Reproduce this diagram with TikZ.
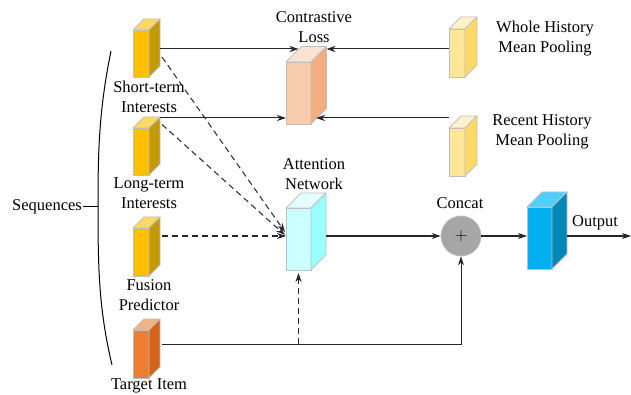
\documentclass[tikz,border=0pt]{standalone}
\usepackage{fontspec}
\setmainfont{Liberation Serif}
\usetikzlibrary{arrows.meta}

\definecolor{yelF}{HTML}{FFC000}\definecolor{yelS}{HTML}{C49A00}\definecolor{yelT}{HTML}{FFD966}
\definecolor{orgF}{HTML}{ED7D31}\definecolor{orgS}{HTML}{D5631A}\definecolor{orgT}{HTML}{F4B183}
\definecolor{pchF}{HTML}{F8CBAD}\definecolor{pchS}{HTML}{F2AE7E}\definecolor{pchT}{HTML}{FBE3D4}
\definecolor{palF}{HTML}{FFE699}\definecolor{palS}{HTML}{FFD966}\definecolor{palT}{HTML}{FFF2CC}
\definecolor{cyaF}{HTML}{CCFFFF}\definecolor{cyaS}{HTML}{99FFFF}\definecolor{cyaT}{HTML}{E3FFFF}
\definecolor{bluF}{HTML}{00B0F0}\definecolor{bluS}{HTML}{0086B8}\definecolor{bluT}{HTML}{50CFFF}

\tikzset{
  cubeface/.style={draw=black!25, line width=0.8pt, inner sep=0pt, outer sep=0pt},
  cubeedge/.style={draw=black!25, line width=0.8pt, line join=round},
  lbl/.style={align=center, inner sep=1pt},
  conn/.style={line width=1pt, draw=black!85},
  dashconn/.style={line width=1pt, draw=black!85, dash pattern=on 6pt off 4pt}
}

% name, centre, width, height, depth, colour prefix
\newcommand{\cuboid}[6]{%
  \node[cubeface, fill=#6F, minimum width=#3, minimum height=#4] (#1) at #2 {};
  \draw[cubeedge, fill=#6T] (#1.north west) -- ++(#5,-#5) -- ++(#3,0) -- (#1.north east) -- cycle;
  \draw[cubeedge, fill=#6S] (#1.north east) -- ++(#5,-#5) -- ++(0,#4) -- (#1.south east) -- cycle;
}

\begin{document}
\begin{tikzpicture}[x=1pt, y=-1pt, font=\fontsize{16.5}{20}\selectfont,
    >={Stealth[length=9pt,width=6pt]}]
  \useasboundingbox (0,0) rectangle (631,395);

  \cuboid{st}{(141,53.5)}{16}{47}{11}{yel}
  \cuboid{lt}{(141,151.5)}{16}{47}{11}{yel}
  \cuboid{fp}{(141,252)}{16}{48}{11}{yel}
  \cuboid{tg}{(141,354)}{16}{48}{11}{org}
  \cuboid{cl}{(298.5,93)}{25}{62}{15.5}{pch}
  \cuboid{wh}{(457,53)}{16}{48}{12}{pal}
  \cuboid{rh}{(457,152)}{16}{48}{12}{pal}
  \cuboid{at}{(298.5,239)}{25}{62}{15}{cya}
  \cuboid{out}{(539.5,238)}{25}{62}{15}{blu}
  \node[circle, draw=black!25, fill=black!35, line width=0.8pt, minimum size=40pt, inner sep=0pt] (cc) at (461,236) {$+$};

  \node[lbl] (stl) at (149,97) {Short-term\\Interests};
  \node[lbl] (ltl) at (149,193) {Long-term\\Interests};
  \node[lbl] (fpl) at (149,295) {Fusion\\Predictor};
  \node[lbl] (tgl) at (149,386) {Target Item};
  \node[lbl] (cll) at (314,27) {Contrastive\\Loss};
  \node[lbl] (whl) at (545,39) {Whole History\\Mean Pooling};
  \node[lbl] (rhl) at (542,132) {Recent History\\Mean Pooling};
  \node[lbl] (atl) at (314,174) {Attention\\Network};
  \node[lbl] (ccl) at (460,203) {Concat};
  \node[lbl] (outl) at (595,223) {Output};
  \node[lbl] (seq) at (47,207) {Sequences};

  \coordinate (bm) at (98,207);
  \coordinate (oend) at (631,236);
  \draw[line width=1pt] (111,51) .. controls (99,110) and (98,150) .. (bm)
    .. controls (98,270) and (99,310) .. (112,365);
  \draw[line width=1pt] (seq.east) -- (bm);

  \draw[conn,->] ([shift={(11,-4.5)}]st.east) coordinate (p1) -- (p1 -| cl.north);
  \draw[conn,->] (wh.west |- p1) -- ([xshift=15.5pt]cl.north east |- p1);
  \draw[conn,->] ([shift={(11,-10)}]lt.north east) coordinate (p2) -- (p2 -| cl.west);
  \draw[conn,->] (rh.west |- p2) -- ([xshift=5pt]cl.east |- p2);

  \draw[dashconn,->] ([shift={(13,3.5)}]st.east) -- ([shift={(-1,-4)}]at.west |- cc);
  \draw[dashconn,->] ([shift={(13,-27)}]lt.east) -- ([shift={(-1,-1)}]at.west |- cc);
  \draw[dashconn,->] ([xshift=13pt]fp.east |- cc) -- (at.west |- cc);

  \draw[conn,->] ([shift={(13,-10)}]tg.east) coordinate (p3) -| (cc.south);
  \draw[dashconn,->] (p3 -| at.south) -- ([yshift=-3pt]at.south);

  \draw[conn,->] ([xshift=15pt]at.east |- cc) -- (cc.west);
  \draw[conn,->] (cc.east) -- (out.west |- cc);
  \draw[conn,->] ([xshift=15pt]out.east |- cc) -- (oend);
\end{tikzpicture}
\end{document}
